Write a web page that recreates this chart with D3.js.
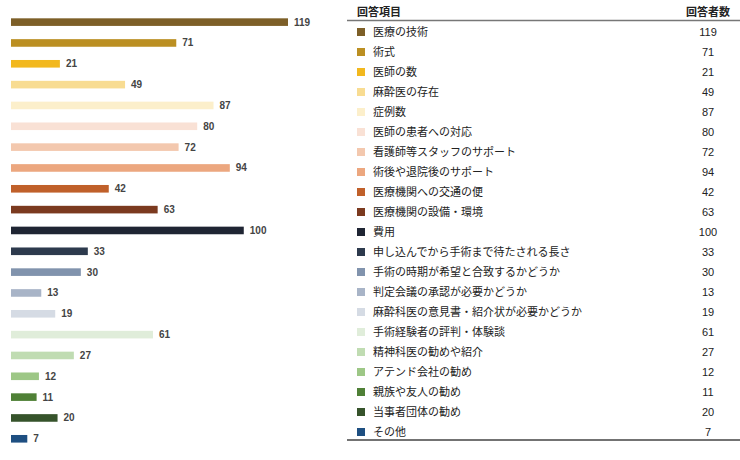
<!DOCTYPE html>
<html>
<head>
<meta charset="utf-8">
<script src="https://cdn.jsdelivr.net/npm/d3@7"></script>
<style>
html,body{margin:0;padding:0;background:#fff;}
svg{display:block;}
</style>
</head>
<body>
<svg id="chart" width="740" height="460"></svg>
<script>
const categories = [
  "医療の技術","術式","医師の数","麻酔医の存在","症例数","医師の患者への対応",
  "看護師等スタッフのサポート","術後や退院後のサポート","医療機関への交通の便","医療機関の設備・環境",
  "費用","申し込んでから手術まで待たされる長さ","手術の時期が希望と合致するかどうか",
  "判定会議の承認が必要かどうか","麻酔科医の意見書・紹介状が必要かどうか","手術経験者の評判・体験談",
  "精神科医の勧めや紹介","アテンド会社の勧め","親族や友人の勧め","当事者団体の勧め","その他"
];
const values = [119,71,21,49,87,80,72,94,42,63,100,33,30,13,19,61,27,12,11,20,7];
const colors = [
  "#7d5f28","#bb8f22","#f2b81e","#f8dc92","#fcefcb","#f9e1d5",
  "#f3c8ae","#eca77f","#c0602a","#7b3a1f","#1f2533","#2d3a4d","#8193ad",
  "#a8b4c7","#d5dbe4","#e0edda","#c0dcb2","#9dc786","#4f8036","#36532b","#1e4f81"
];
const headerLabels = ["回答項目","回答者数"];

const svg = d3.select("#chart");
const cjk = "'Noto Sans CJK JP','Noto Sans',sans-serif";
const num = "'Liberation Sans',Arial,sans-serif";

const x = d3.scaleLinear().domain([0, 119]).range([11, 288]);
const y = d3.scaleBand().domain(categories).range([11.7, 449.2]).paddingInner(0.635).paddingOuter(0.3175);

svg.append("g").selectAll("rect").data(categories).join("rect")
  .attr("x", x(0))
  .attr("y", d => y(d))
  .attr("width", (d,i) => x(values[i]) - x(0))
  .attr("height", y.bandwidth())
  .attr("fill", (d,i) => colors[i]);

svg.append("g").selectAll("text").data(categories).join("text")
  .attr("x", (d,i) => x(values[i]) + 6)
  .attr("y", d => y(d) + y.bandwidth()/2)
  .attr("dy", "0.35em")
  .attr("font-family", num)
  .attr("font-weight", "bold")
  .attr("font-size", 10)
  .attr("fill", "#444")
  .text((d,i) => values[i]);

// Table
const ty = d3.scaleLinear().domain([0, 20]).range([32, 432]);
const tbl = svg.append("g");
tbl.append("text").attr("x", 357).attr("y", 12).attr("dy","0.35em")
  .attr("font-family", cjk).attr("font-size", 11).attr("font-weight","bold").attr("fill","#222")
  .text(headerLabels[0]);
tbl.append("text").attr("x", 708).attr("y", 12).attr("dy","0.35em").attr("text-anchor","middle")
  .attr("font-family", cjk).attr("font-size", 11).attr("font-weight","bold").attr("fill","#222")
  .text(headerLabels[1]);
tbl.append("line").attr("x1", 347).attr("x2", 740).attr("y1", 20.5).attr("y2", 20.5)
  .attr("stroke", "#777").attr("stroke-width", 1.5);
tbl.append("line").attr("x1", 347).attr("x2", 740).attr("y1", 440).attr("y2", 440)
  .attr("stroke", "#444").attr("stroke-width", 1.5);

const rows = tbl.selectAll("g.row").data(categories).join("g").attr("class","row")
  .attr("transform", (d,i) => `translate(0,${ty(i)})`);
rows.append("rect").attr("x", 357).attr("y", -4).attr("width", 8).attr("height", 8)
  .attr("fill", (d,i) => colors[i]);
rows.append("text").attr("x", 373).attr("dy","0.35em")
  .attr("font-family", cjk).attr("font-size", 11).attr("fill","#222")
  .text(d => d);
rows.append("text").attr("x", 708).attr("dy","0.35em").attr("text-anchor","middle")
  .attr("font-family", num).attr("font-size", 11).attr("fill","#222")
  .text((d,i) => values[i]);
</script>
</body>
</html>
